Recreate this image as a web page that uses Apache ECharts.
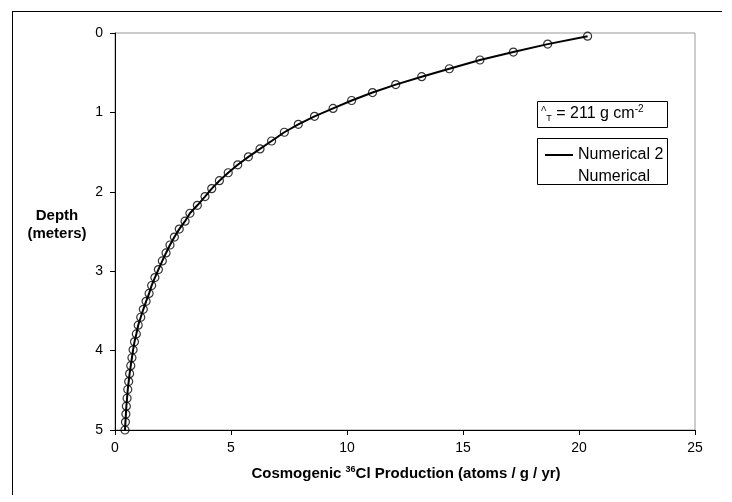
<!DOCTYPE html>
<html>
<head>
<meta charset="utf-8">
<script src="https://cdn.jsdelivr.net/npm/echarts@6/dist/echarts.min.js"></script>
<style>
  html, body { margin: 0; padding: 0; background: #fff; }
  #chart { width: 732px; height: 502px; }
</style>
</head>
<body>
<div id="chart"></div>
<script>
// Depth below surface (m) for each model node
var depths = [
  0.04, 0.14, 0.24, 0.34, 0.45, 0.55, 0.65, 0.75, 0.85, 0.95,
  1.05, 1.15, 1.25, 1.36, 1.46, 1.56, 1.66, 1.76, 1.86, 1.96,
  2.06, 2.17, 2.27, 2.37, 2.47, 2.57, 2.67, 2.77, 2.87, 2.98,
  3.08, 3.18, 3.28, 3.38, 3.48, 3.58, 3.68, 3.79, 3.89, 3.99,
  4.09, 4.19, 4.29, 4.39, 4.49, 4.60, 4.70, 4.80, 4.90, 5.00
];
// 36Cl production rate (atoms / g / yr) at each depth
var production = [
  20.37, 18.65, 17.17, 15.73, 14.41, 13.22, 12.10, 11.10, 10.20, 9.40,
  8.60, 7.90, 7.30, 6.75, 6.25, 5.75, 5.29, 4.88, 4.50, 4.17,
  3.88, 3.55, 3.23, 3.02, 2.77, 2.56, 2.37, 2.20, 2.04, 1.87,
  1.72, 1.58, 1.47, 1.34, 1.22, 1.11, 1.00, 0.92, 0.84, 0.78,
  0.73, 0.68, 0.63, 0.59, 0.55, 0.52, 0.49, 0.47, 0.45, 0.43
];
var xTicks = [0, 5, 10, 15, 20, 25];
var yTicks = [0, 1, 2, 3, 4, 5];
var seriesNames = ['Numerical 2', 'Numerical'];

var points = depths.map(function (d, i) { return [production[i], d]; });

var font = '"Liberation Sans", Arial, sans-serif';
var chart = echarts.init(document.getElementById('chart'), null, { renderer: 'canvas' });

chart.setOption({
  backgroundColor: '#fff',
  animation: false,
  grid: { left: 115, right: 37, top: 33, bottom: 72, show: true, borderColor: '#999', borderWidth: 1, backgroundColor: 'transparent' },
  xAxis: {
    type: 'value', min: xTicks[0], max: xTicks[xTicks.length - 1], interval: 5,
    position: 'bottom',
    axisLine: { onZero: false, lineStyle: { color: '#000', width: 1 } },
    axisTick: { show: true, inside: false, length: 5, lineStyle: { color: '#000' } },
    axisLabel: { color: '#000', fontSize: 14, fontFamily: font, margin: 11 },
    splitLine: { show: false }
  },
  yAxis: {
    type: 'value', inverse: true, min: yTicks[0], max: yTicks[yTicks.length - 1], interval: 1,
    axisLine: { show: true, onZero: false, lineStyle: { color: '#000', width: 1 } },
    axisTick: { show: true, inside: false, length: 5, lineStyle: { color: '#000' } },
    axisLabel: { color: '#000', fontSize: 14, fontFamily: font, margin: 12 },
    splitLine: { show: false }
  },
  legend: {
    left: 540, top: 142, orient: 'vertical', itemGap: 6,
    itemWidth: 28, itemHeight: 2,
    textStyle: { fontSize: 16, fontFamily: font, color: '#000' },
    data: [
      { name: seriesNames[0], icon: 'rect' },
      { name: seriesNames[1], icon: 'none' }
    ]
  },
  series: [
    {
      name: seriesNames[0], type: 'line', data: points, showSymbol: false, symbol: 'none',
      lineStyle: { color: '#000', width: 2 }, itemStyle: { color: '#000' }, z: 2
    },
    {
      name: seriesNames[1], type: 'scatter', data: points, symbol: 'circle', symbolSize: 8,
      itemStyle: { color: 'rgba(0,0,0,0)', borderColor: '#000', borderWidth: 1.2 }, z: 3
    }
  ],
  graphic: [
    // outer chart frame
    { type: 'line', shape: { x1: 12, y1: 11.5, x2: 722, y2: 11.5 }, style: { stroke: '#000', lineWidth: 1 } },
    { type: 'line', shape: { x1: 12.5, y1: 11, x2: 12.5, y2: 495 }, style: { stroke: '#000', lineWidth: 1 } },
    // attenuation length box
    { type: 'rect', shape: { x: 537.5, y: 101.5, width: 130, height: 26 }, style: { fill: '#fff', stroke: '#000', lineWidth: 1 } },
    {
      type: 'text', left: 541, top: 104,
      style: {
        text: '{lam|Λ}{sub|T}{t| = 211 g cm}{sup|-2}',
        rich: {
          lam: { fontSize: 8, fontFamily: font, fill: '#000', padding: [0, 0, 10, 0] },
          sub: { fontSize: 9, fontFamily: font, fill: '#000', padding: [10, 0, 0, 0] },
          t: { fontSize: 16, fontFamily: font, fill: '#000' },
          sup: { fontSize: 10, fontFamily: font, fill: '#000', padding: [0, 0, 10, 0] }
        }
      }
    },
    // legend frame
    { type: 'rect', z: -1, shape: { x: 537.5, y: 138.5, width: 130, height: 46 }, style: { fill: '#fff', stroke: '#000', lineWidth: 1 } },
    // axis titles
    {
      type: 'text',
      style: {
        x: 406, y: 474, align: 'center', verticalAlign: 'middle',
        text: '{b|Cosmogenic }{s|36}{b|Cl Production (atoms / g / yr)}',
        rich: {
          b: { fontSize: 15, fontWeight: 'bold', fontFamily: font, fill: '#000' },
          s: { fontSize: 9, fontWeight: 'bold', fontFamily: font, fill: '#000', padding: [0, 0, 8, 0] }
        }
      }
    },
    {
      type: 'text',
      style: { x: 57, y: 225, text: 'Depth\n(meters)', fontSize: 15, fontWeight: 'bold', fontFamily: font, fill: '#000', align: 'center', verticalAlign: 'middle', lineHeight: 18 }
    }
  ]
});
</script>
</body>
</html>
